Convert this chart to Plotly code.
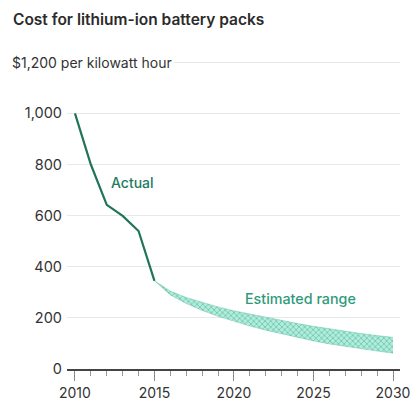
import plotly.graph_objects as go

# Data
actual_years = [2010, 2011, 2012, 2013, 2014, 2015]
actual_cost = [1000, 800, 642, 599, 540, 345]

est_years = [2015, 2016, 2017, 2018, 2019, 2020, 2021, 2022, 2023, 2024,
             2025, 2026, 2027, 2028, 2029, 2030]
est_upper = [345, 305, 280, 260, 243, 228, 215, 203, 190, 178,
             167, 157, 148, 139, 131, 124]
est_lower = [345, 290, 256, 229, 206, 186, 168, 152, 137, 123,
             110, 98, 88, 79, 70, 62]

y_ticks = [0, 200, 400, 600, 800, 1000, 1200]
y_labels = ["0", "200", "400", "600", "800", "1,000", ""]
x_ticks = [2010, 2015, 2020, 2025, 2030]

FONT = "Inter, Roboto, sans-serif"
W, H = 413, 404
ML, MR, MT, MB = 67, 13, 61, 35

fig = go.Figure()

fig.add_trace(go.Scatter(
    x=est_years, y=est_lower, mode="lines",
    line=dict(color="rgba(60,165,135,0.5)", width=0.6),
    hoverinfo="skip", showlegend=False))
fig.add_trace(go.Scatter(
    x=est_years, y=est_upper, mode="lines",
    line=dict(color="rgba(60,165,135,0.5)", width=0.6),
    fill="tonexty",
    fillcolor="rgba(170,235,215,0.9)",
    fillpattern=dict(shape="x", fgcolor="#3f9e85", bgcolor="#b0eedc",
                     size=4, solidity=0.4),
    hoverinfo="skip", showlegend=False))

fig.add_trace(go.Scatter(
    x=actual_years, y=actual_cost, mode="lines",
    line=dict(color="#1f7558", width=2.2),
    showlegend=False))

fig.update_layout(
    width=W, height=H,
    margin=dict(l=ML, r=MR, t=MT, b=MB, autoexpand=False),
    paper_bgcolor="white", plot_bgcolor="white",
    font=dict(family=FONT, color="#333333", size=14),
    title=dict(text="Cost for lithium-ion battery packs",
               x=13 / W, xanchor="left", xref="container",
               y=1 - 20 / H, yanchor="middle", yref="container",
               font=dict(family=FONT, size=15.5, color="#2b2b2b", weight=600)),
    xaxis=dict(range=[2009.5, 2030.44], tickmode="array", tickvals=x_ticks,
               ticks="outside", ticklen=10, tickcolor="#888888", tickwidth=1,
               minor=dict(dtick=1, tick0=2010, ticks="outside", ticklen=5,
                          tickcolor="#999999", tickwidth=1, showgrid=False),
               showgrid=False, zeroline=False, automargin=False,
               showline=True, linecolor="#444444", linewidth=1.5,
               tickfont=dict(size=14, color="#333333"), fixedrange=True),
    yaxis=dict(range=[0, 1205], tickmode="array", tickvals=y_ticks, ticktext=y_labels,
               showgrid=True, gridcolor="#e8e8e8", gridwidth=1,
               zeroline=False, showline=False, ticks="", automargin=False,
               ticklabelstandoff=4,
               tickfont=dict(size=14.5, color="#333333"), fixedrange=True),
    annotations=[
        dict(text="$1,200 per kilowatt hour", xref="paper", yref="y",
             x=(9 - ML) / (W - ML - MR), y=1200, xanchor="left", yanchor="middle",
             showarrow=False, bgcolor="white", borderpad=2,
             font=dict(family=FONT, size=14, color="#333333")),
        dict(text="Actual", xref="x", yref="y", x=2013.6, y=731,
             xanchor="center", yanchor="middle", showarrow=False,
             font=dict(family=FONT, size=14, color="#237a5e", weight=500)),
        dict(text="Estimated range", xref="x", yref="y", x=2024.2, y=277,
             xanchor="center", yanchor="middle", showarrow=False,
             font=dict(family=FONT, size=14.3, color="#2f9a7a", weight=500)),
    ],
)

fig.write_html("out.html", config={"displayModeBar": False},
               post_script="document.body.style.margin='0';")
